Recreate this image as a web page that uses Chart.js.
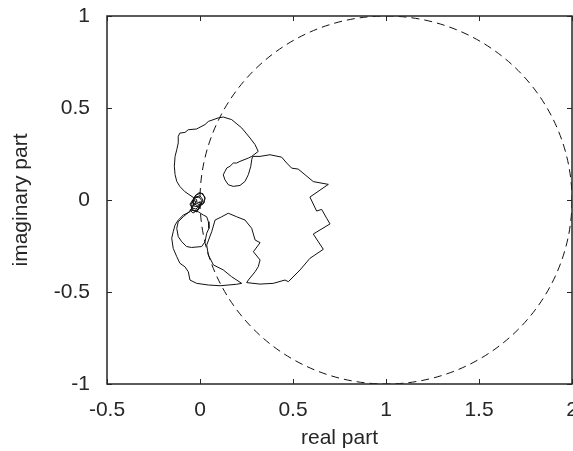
<!DOCTYPE html>
<html>
<head>
<meta charset="utf-8">
<script src="https://cdn.jsdelivr.net/npm/chart.js@4/dist/chart.umd.min.js"></script>
<style>
  html, body { margin: 0; padding: 0; background: #fff; }
  #wrap { width: 573px; height: 451px; }
</style>
</head>
<body>
<div id="wrap"><canvas id="nyquist"></canvas></div>
<script>
// Nyquist-style plot: measured response (solid) and unit circle about (1, 0) (dashed)

// axis ticks
const xTicks = [-0.5, 0, 0.5, 1, 1.5, 2];
const yTicks = [-1, -0.5, 0, 0.5, 1];

// reference circle
const circleCenter = [1, 0];
const circleRadius = 1;

// response curve (real / imaginary parts)
const curveRe = [
    0.690, 0.591, 0.627, 0.654, 0.681, 0.699, 0.609, 0.663, 0.591, 0.538, 0.475, 0.457, 0.394, 0.323, 0.251,
    0.260, 0.296, 0.313, 0.323, 0.287, 0.323, 0.296, 0.278, 0.242, 0.197, 0.152, 0.117, 0.081, 0.063, 0.036,
    0.045, 0.072, 0.125, 0.170, 0.224,
    0.197, 0.108, 0.045, -0.018, -0.054, -0.063, -0.081, -0.108, -0.125, -0.144, -0.152, -0.144, -0.134, -0.117,
    -0.090, -0.054,
    -0.038, -0.027, -0.005, 0.016, 0.027, 0.016, -0.011, -0.038, -0.032, -0.005, 0.011, -0.005, -0.032, -0.048,
    -0.022, 0.000, -0.016, -0.043,
    -0.048, -0.022, 0.005, 0.027, 0.022, -0.005, -0.032, -0.043, -0.027, 0.000, 0.016, 0.005, -0.022, -0.043,
    -0.054, -0.038, -0.016, 0.005, -0.011, -0.038, -0.054,
    -0.009, 0.018, 0.036, 0.045, 0.048, 0.036, 0.027, 0.009, -0.045, -0.072, -0.098, -0.117, -0.125, -0.117,
    -0.090, -0.059, -0.032, -0.016,
    -0.081, -0.108, -0.125, -0.134, -0.138, -0.134, -0.125, -0.117, -0.117, -0.108, -0.081, -0.063, -0.018,
    0.027, 0.045, 0.098, 0.125, 0.170, 0.224, 0.269, 0.296, 0.313,
    0.278, 0.260, 0.215, 0.197, 0.179, 0.161, 0.144, 0.134, 0.125, 0.134, 0.152, 0.179, 0.215, 0.242, 0.260,
    0.273, 0.278, 0.283,
    0.323, 0.376, 0.439, 0.466, 0.493, 0.528, 0.565, 0.609, 0.690
];
const curveIm = [
    0.085, 0.016, -0.060, -0.051, -0.099, -0.130, -0.185, -0.268, -0.317, -0.380, -0.444, -0.435, -0.453, -0.457, -0.449,
    -0.435, -0.390, -0.363, -0.326, -0.281, -0.232, -0.217, -0.154, -0.109, -0.091, -0.072, -0.091, -0.109, -0.172, -0.245,
    -0.299, -0.353, -0.380, -0.417, -0.453,
    -0.458, -0.466, -0.462, -0.453, -0.435, -0.390, -0.363, -0.344, -0.308, -0.263, -0.208, -0.172, -0.136, -0.109,
    -0.082, -0.064,
    -0.033, 0.022, 0.040, 0.034, 0.007, -0.020, -0.033, -0.016, 0.011, 0.016, -0.005, -0.049, -0.060, -0.038,
    -0.016, -0.027, -0.065, -0.054,
    -0.022, 0.027, 0.038, 0.016, -0.016, -0.038, -0.033, -0.005, 0.016, 0.022, 0.000, -0.027, -0.049, -0.043,
    -0.022, 0.000, -0.011, -0.016, -0.054, -0.071, -0.054,
    -0.064, -0.082, -0.091, -0.118, -0.154, -0.181, -0.227, -0.253, -0.258, -0.253, -0.227, -0.199, -0.154, -0.118,
    -0.091, -0.065, -0.027, 0.000,
    0.045, 0.073, 0.101, 0.138, 0.183, 0.237, 0.273, 0.310, 0.346, 0.364, 0.367, 0.382, 0.386,
    0.410, 0.427, 0.446, 0.451, 0.437, 0.392, 0.337, 0.301, 0.264,
    0.237, 0.228, 0.210, 0.201, 0.201, 0.183, 0.174, 0.155, 0.137, 0.110, 0.083, 0.074, 0.079, 0.101, 0.138,
    0.183, 0.219, 0.237,
    0.237, 0.246, 0.233, 0.201, 0.173, 0.168, 0.137, 0.100, 0.085
];

const axisColor = '#262626';
const fontFamily = '"Liberation Sans", Arial, Helvetica, sans-serif';

// box, inward ticks on all four sides, and the dashed circle
const matlabAxes = {
    id: 'matlabAxes',
    beforeDatasetsDraw(chart) {
        const { ctx, chartArea: a, scales: { x, y } } = chart;
        ctx.save();
        ctx.beginPath();
        ctx.rect(a.left, a.top, a.right - a.left, a.bottom - a.top);
        ctx.clip();
        const cx = x.getPixelForValue(circleCenter[0]);
        const cy = y.getPixelForValue(circleCenter[1]);
        const rx = x.getPixelForValue(circleCenter[0] + circleRadius) - cx;
        const ry = cy - y.getPixelForValue(circleCenter[1] + circleRadius);
        ctx.setLineDash([8, 5]);
        ctx.lineWidth = 1;
        ctx.strokeStyle = '#111';
        ctx.beginPath();
        ctx.ellipse(cx, cy, rx, ry, 0, 0, Math.PI * 2);
        ctx.stroke();
        ctx.restore();
    },
    afterDraw(chart) {
        const { ctx, chartArea: a, scales: { x, y } } = chart;
        const len = 5;
        ctx.save();
        ctx.strokeStyle = axisColor;
        ctx.lineWidth = 1.5;
        ctx.strokeRect(a.left, a.top, a.right - a.left, a.bottom - a.top);
        ctx.lineWidth = 1;
        ctx.beginPath();
        xTicks.forEach(v => {
            const px = Math.round(x.getPixelForValue(v)) + 0.5;
            ctx.moveTo(px, a.bottom); ctx.lineTo(px, a.bottom - len);
            ctx.moveTo(px, a.top); ctx.lineTo(px, a.top + len);
        });
        yTicks.forEach(v => {
            const py = Math.round(y.getPixelForValue(v)) + 0.5;
            ctx.moveTo(a.left, py); ctx.lineTo(a.left + len, py);
            ctx.moveTo(a.right, py); ctx.lineTo(a.right - len, py);
        });
        ctx.stroke();
        ctx.restore();
    }
};

document.addEventListener('DOMContentLoaded', () => {
    const points = curveRe.map((re, i) => ({ x: re, y: curveIm[i] }));

    new Chart(document.getElementById('nyquist'), {
        type: 'scatter',
        data: {
            datasets: [{
                data: points,
                showLine: true,
                borderColor: '#111',
                borderWidth: 1,
                pointRadius: 0,
                tension: 0
            }]
        },
        options: {
            responsive: true,
            maintainAspectRatio: false,
            animation: false,
            layout: { padding: { left: 0, right: 1, top: 16, bottom: 0 } },
            plugins: {
                legend: { display: false },
                tooltip: { enabled: false }
            },
            scales: {
                x: {
                    type: 'linear',
                    min: -0.5,
                    max: 2,
                    grid: { display: false, drawTicks: false },
                    border: { display: false },
                    afterBuildTicks: (s) => { s.ticks = xTicks.map(v => ({ value: v })); },
                    afterFit: (s) => { s.height = 67; s.paddingLeft = 0; s.paddingRight = 0; },
                    ticks: {
                        color: axisColor,
                        padding: 14,
                        maxRotation: 0,
                        font: { family: fontFamily, size: 21 },
                        callback: (v) => String(v)
                    },
                    title: {
                        display: true,
                        text: 'real part',
                        color: axisColor,
                        padding: 0,
                        font: { family: fontFamily, size: 21 }
                    }
                },
                y: {
                    type: 'linear',
                    min: -1,
                    max: 1,
                    grid: { display: false, drawTicks: false },
                    border: { display: false },
                    afterBuildTicks: (s) => { s.ticks = yTicks.map(v => ({ value: v })); },
                    afterFit: (s) => { s.width = 107; s.paddingTop = 0; s.paddingBottom = 0; },
                    ticks: {
                        color: axisColor,
                        padding: 17,
                        font: { family: fontFamily, size: 21 },
                        callback: (v) => String(v)
                    },
                    title: {
                        display: true,
                        text: 'imaginary part',
                        color: axisColor,
                        padding: { top: 9, bottom: 0 },
                        font: { family: fontFamily, size: 21 }
                    }
                }
            }
        },
        plugins: [matlabAxes]
    });
});
</script>
</body>
</html>
